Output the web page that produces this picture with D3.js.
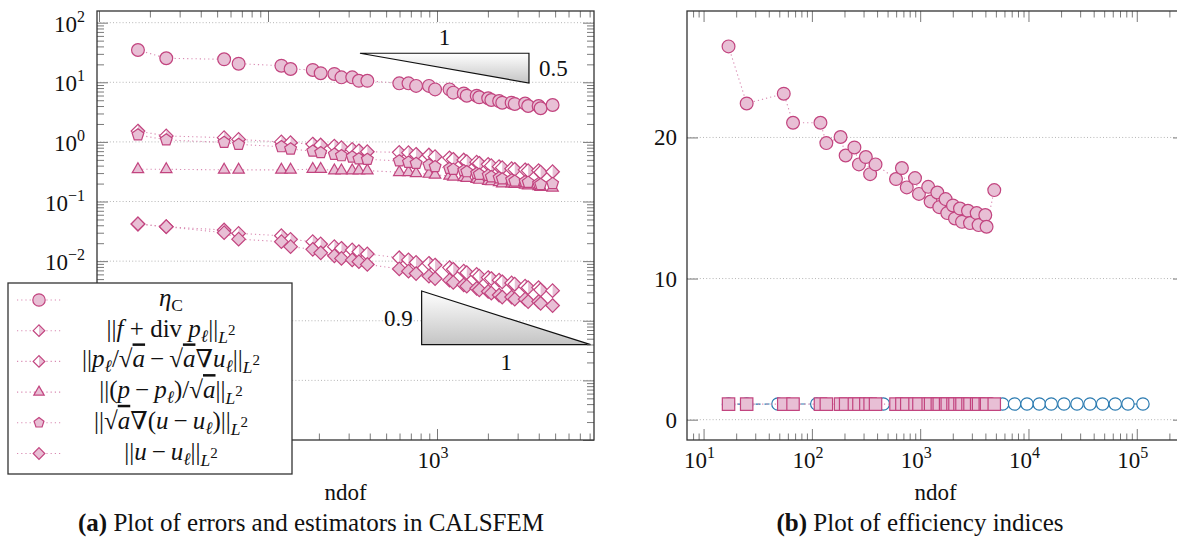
<!DOCTYPE html>
<html>
<head>
<meta charset="utf-8">
<script src="https://cdn.jsdelivr.net/npm/d3@7"></script>
<style>
  body { margin: 0; background: #fff; }
</style>
</head>
<body>
<svg id="fig" width="1177" height="545" font-family="'Liberation Serif', 'Times New Roman', 'DejaVu Serif', serif"></svg>
<script>
// ---- data ----
var ndof = [17, 25, 55, 67, 120, 136, 184, 205, 247, 272, 315, 345, 387, 598, 678, 752, 896, 974,
  1186, 1248, 1440, 1500, 1717, 1779, 2009, 2096, 2331, 2432, 2763, 2884, 3322, 3462, 3992, 4103, 4830];
var etaC = [34.8, 25.3, 24.3, 20.5, 19.0, 16.7, 16.1, 14.2, 13.8, 12.1, 12.1, 10.6, 10.6, 9.6, 9.6, 8.7, 8.7, 7.6,
  7.6, 6.7, 6.5, 5.96, 5.96, 5.6, 5.4, 5.05, 4.85, 4.55, 4.55, 4.33, 4.4, 4.0, 4.0, 3.67, 4.16];
var resDiv = [0.042, 0.0378, 0.0333, 0.0292, 0.0267, 0.0232, 0.0212, 0.0194, 0.0175, 0.0164, 0.0154, 0.0144, 0.0132,
  0.0114, 0.0105, 0.0095, 0.0092, 0.0086, 0.0078, 0.0073, 0.0068, 0.0064, 0.006, 0.0056, 0.0053, 0.0051, 0.0048,
  0.0045, 0.0043, 0.0041, 0.0038, 0.0036, 0.0036, 0.0033, 0.0032];
var resFlux = [1.52, 1.26, 1.18, 1.1, 1.0, 0.97, 0.92, 0.887, 0.85, 0.80, 0.75, 0.71, 0.685, 0.668, 0.66, 0.62, 0.603,
  0.565, 0.54, 0.51, 0.497, 0.466, 0.458, 0.437, 0.42, 0.40, 0.384, 0.37, 0.355, 0.347, 0.34, 0.33, 0.33, 0.31, 0.316];
var errFlux = [0.347, 0.347, 0.34, 0.34, 0.34, 0.34, 0.35, 0.35, 0.33, 0.33, 0.33, 0.33, 0.33, 0.31, 0.31, 0.297, 0.29,
  0.28, 0.27, 0.26, 0.255, 0.248, 0.238, 0.23, 0.22, 0.217, 0.21, 0.2, 0.2, 0.197, 0.19, 0.185, 0.18, 0.175, 0.17];
var errEnergy = [1.31, 1.08, 0.98, 0.91, 0.83, 0.76, 0.70, 0.66, 0.62, 0.586, 0.558, 0.52, 0.51, 0.48, 0.455, 0.437,
  0.41, 0.384, 0.36, 0.347, 0.33, 0.316, 0.297, 0.285, 0.275, 0.26, 0.25, 0.24, 0.23, 0.22, 0.215, 0.21, 0.2, 0.193, 0.2];
var errL2 = [0.042, 0.0378, 0.030, 0.0234, 0.0212, 0.0175, 0.0158, 0.0138, 0.0123, 0.0111, 0.0105, 0.0098, 0.0088,
  0.0074, 0.0068, 0.0062, 0.0056, 0.0051, 0.0048, 0.0044, 0.0040, 0.0038, 0.0035, 0.0033, 0.0031, 0.0029, 0.0027,
  0.0025, 0.0025, 0.0023, 0.0023, 0.0021, 0.0021, 0.00196, 0.0018];

var effEta = [26.45, 22.41, 23.1, 21.04, 21.04, 19.6, 20.03, 18.72, 19.29, 18.09, 18.61, 17.4, 18.09, 17.05, 17.83,
  16.46, 17.12, 16.0, 16.5, 15.46, 16.1, 15.06, 15.63, 14.64, 15.18, 14.26, 14.96, 14.02, 14.8, 13.93, 14.64, 13.79,
  14.5, 13.67, 16.27];
var effLS = [1.1, 1.1, 1.1, 1.1, 1.1, 1.1, 1.1, 1.1, 1.1, 1.1, 1.1, 1.1, 1.1, 1.1, 1.1, 1.1, 1.1, 1.1,
  1.1, 1.1, 1.1, 1.1, 1.1, 1.1, 1.1, 1.1, 1.1, 1.1, 1.1, 1.1, 1.1, 1.1, 1.1, 1.1, 1.1];
var ndofUni = [17, 25, 48.6, 111, 457, 5770, 7440, 9690, 12590, 16230, 21270, 28060, 36990, 48330, 63270, 82900, 114000];
var effUni = [1.1, 1.1, 1.11, 1.11, 1.11, 1.11, 1.11, 1.11, 1.11, 1.11, 1.11, 1.11, 1.11, 1.11, 1.11, 1.11, 1.11];

var yTicksLeft = [-4, -3, -2, -1, 0, 1, 2];     // exponents
var xLabelsLeft = [3];
var yTicksRight = [0, 10, 20];
var xTicksRight = [1, 2, 3, 4, 5];

// slope triangles (data coords)
var slopeTop = { x: 350, y: 30.7, rate: 0.5 };
var slopeBot = { x: 811, y: 0.000398, rate: 0.9 };

// ---- style ----
var PINK = "#c2447f", PINKFILL = "#e8bfd5", PINKLINE = "#d98ab2", BLUE = "#2a7ab0";
var FONT = "'Liberation Serif', 'Times New Roman', 'DejaVu Serif', serif";
var FS = 23;

var svg = d3.select("#fig");
var defs = svg.append("defs");
var grad = defs.append("linearGradient").attr("id", "tri").attr("x1", 0).attr("y1", 0).attr("x2", 0).attr("y2", 1);
grad.append("stop").attr("offset", "0%").attr("stop-color", "#ffffff");
grad.append("stop").attr("offset", "100%").attr("stop-color", "#c4c4c4");

var L = { x0: 97, x1: 594, y0: 11, y1: 440 };
var R = { x0: 687, x1: 1184, y0: 11, y1: 440 };

var xL = d3.scaleLog().domain([9.73, 8490]).range([L.x0, L.x1]);
var yL = d3.scaleLog().domain([1e-5, 157]).range([L.y1, L.y0]);
var xR = d3.scaleLog().domain([7.03, 272900]).range([R.x0, R.x1]);
var yR = d3.scaleLinear().domain([-1.44, 28.96]).range([R.y1, R.y0]);

function txt(g, x, y, anchor, size) {
  return g.append("text").attr("x", x).attr("y", y).attr("text-anchor", anchor)
    .style("font-family", FONT).style("font-size", size + "px").attr("fill", "#111");
}

function logTicks(scale, major) {
  var d = scale.domain(), out = [];
  for (var e = Math.floor(Math.log10(d[0])); e <= Math.ceil(Math.log10(d[1])); e++) {
    for (var k = 1; k < 10; k++) {
      var v = k * Math.pow(10, e);
      if (v >= d[0] && v <= d[1] && ((k === 1) === major)) out.push(v);
    }
  }
  return out;
}

function markerPath(kind, r) {
  if (kind === "diamond" || kind === "half")
    return "M0," + (-r) + "L" + r + ",0L0," + r + "L" + (-r) + ",0Z";
  if (kind === "triangle")
    return "M0," + (-r) + "L" + (r * 0.866) + "," + (r * 0.5) + "L" + (-r * 0.866) + "," + (r * 0.5) + "Z";
  if (kind === "pentagon") {
    var p = d3.range(5).map(function (k) {
      var a = -Math.PI / 2 + k * 2 * Math.PI / 5;
      return [r * Math.cos(a), r * Math.sin(a)];
    });
    return "M" + p.join("L") + "Z";
  }
  if (kind === "square")
    return "M" + (-r) + "," + (-r) + "h" + (2 * r) + "v" + (2 * r) + "h" + (-2 * r) + "Z";
  return "";
}

function drawMarker(g, kind, r, stroke, fill) {
  if (kind === "circle" || kind === "open") {
    g.append("circle").attr("r", r).attr("fill", kind === "open" ? "#fff" : fill)
      .attr("stroke", stroke).attr("stroke-width", 1.2);
  } else if (kind === "half") {
    g.append("path").attr("d", markerPath("diamond", r)).attr("fill", "#fff");
    g.append("path").attr("d", "M0," + (-r) + "L" + r + ",0L0," + r + "Z").attr("fill", fill);
    g.append("path").attr("d", markerPath("diamond", r)).attr("fill", "none")
      .attr("stroke", stroke).attr("stroke-width", 1.2);
  } else {
    g.append("path").attr("d", markerPath(kind, r)).attr("fill", fill)
      .attr("stroke", stroke).attr("stroke-width", 1.2);
  }
}

function mathText(g, x, y, parts, fs, anchor) {
  var t = txt(g, x, y, anchor || "middle", fs);
  var cur = 0;
  parts.forEach(function (p) {
    var off = p[2] || 0, sc = p[3] || 1;
    var ts = t.append("tspan").text(p[0]).attr("dy", off - cur).style("font-size", (fs * sc) + "px");
    if (p[1].indexOf("i") >= 0) ts.style("font-style", "italic");
    if (p[1].indexOf("o") >= 0) ts.style("text-decoration", "overline");
    cur = off;
  });
  return t;
}

function power10(g, x, y, e, anchor) {
  var t = txt(g, x, y, anchor, FS).text("10");
  t.append("tspan").attr("dy", -10).style("font-size", "16px").text(e < 0 ? "\u2212" + (-e) : e);
}

function series(g, xs, x, y, vals, kind, r, stroke, fill, line, dash) {
  var pts = xs.map(function (d, i) { return [x(d), y(vals[i])]; });
  g.append("path").attr("d", d3.line()(pts)).attr("fill", "none")
    .attr("stroke", line).attr("stroke-width", 1.1).attr("stroke-dasharray", dash);
  pts.forEach(function (p) {
    drawMarker(g.append("g").attr("transform", "translate(" + p[0] + "," + p[1] + ")"), kind, r, stroke, fill);
  });
}

function frame(g, x, y, box, majorX, minorX, majorY, minorY) {
  var tick = function (ax, size, vals) {
    var a = g.append("g").call(ax.tickValues(vals).tickSize(size).tickFormat(""));
    a.select(".domain").remove();
    a.selectAll("line").attr("stroke", "#7a7a7a").attr("stroke-width", 1);
    return a;
  };
  tick(d3.axisBottom(x), -11, majorX).attr("transform", "translate(0," + box.y1 + ")");
  tick(d3.axisBottom(x), -6.5, minorX).attr("transform", "translate(0," + box.y1 + ")");
  tick(d3.axisTop(x), -11, majorX).attr("transform", "translate(0," + box.y0 + ")");
  tick(d3.axisTop(x), -6.5, minorX).attr("transform", "translate(0," + box.y0 + ")");
  tick(d3.axisLeft(y), -11, majorY).attr("transform", "translate(" + box.x0 + ",0)");
  tick(d3.axisRight(y), -11, majorY).attr("transform", "translate(" + box.x1 + ",0)");
  if (minorY.length) {
    tick(d3.axisLeft(y), -7, minorY).attr("transform", "translate(" + box.x0 + ",0)");
    tick(d3.axisRight(y), -7, minorY).attr("transform", "translate(" + box.x1 + ",0)");
  }
  g.append("rect").attr("x", box.x0).attr("y", box.y0)
    .attr("width", box.x1 - box.x0).attr("height", box.y1 - box.y0)
    .attr("fill", "none").attr("stroke", "#333").attr("stroke-width", 1.3);
}

function grid(g, y, vals, box) {
  g.append("g").selectAll("line").data(vals).enter().append("line")
    .attr("x1", box.x0).attr("x2", box.x1)
    .attr("y1", function (d) { return y(d); }).attr("y2", function (d) { return y(d); })
    .attr("stroke", "#b5b5b5").attr("stroke-width", 1).attr("stroke-dasharray", "1,2.2");
}

// ================= left plot =================
var gl = svg.append("g");
grid(gl, yL, yTicksLeft.map(function (e) { return Math.pow(10, e); }), L);

var leftSeries = [
  { vals: etaC, kind: "circle", r: 6.4, lr: 6.2,
    label: [["\u03B7", "i"], ["C", "", 5, 0.7]] },
  { vals: resDiv, kind: "half", r: 6.8, lr: 5.8,
    label: [["||", ""], ["f", "i"], [" + div ", ""], ["p", "i"], ["\u2113", "i", 5, 0.7], ["||", "", 0],
      ["L", "i", 6, 0.7], ["2", "", -2, 0.6]] },
  { vals: resFlux, kind: "half", r: 6.8, lr: 5.8,
    label: [["||", ""], ["p", "i"], ["\u2113", "i", 5, 0.7], ["/\u221A", "", 0], ["a", "io"], ["\u2009\u2212\u2009\u221A", ""],
      ["a", "io"], ["\u2207", ""], ["u", "i"], ["\u2113", "i", 5, 0.7], ["||", "", 0],
      ["L", "i", 6, 0.7], ["2", "", -2, 0.6]] },
  { vals: errFlux, kind: "triangle", r: 6.6, lr: 6.0,
    label: [["||(", ""], ["p", "i"], ["\u2009\u2212\u2009", ""], ["p", "i"], ["\u2113", "i", 5, 0.7], [")/\u221A", "", 0],
      ["a", "io"], ["||", ""], ["L", "i", 6, 0.7], ["2", "", -2, 0.6]] },
  { vals: errEnergy, kind: "pentagon", r: 6.2, lr: 5.2,
    label: [["||\u221A", ""], ["a", "io"], ["\u2207(", ""], ["u", "i"], ["\u2009\u2212\u2009", ""], ["u", "i"],
      ["\u2113", "i", 5, 0.7], [")||", "", 0], ["L", "i", 6, 0.7], ["2", "", -2, 0.6]] },
  { vals: errL2, kind: "diamond", r: 6.8, lr: 5.8,
    label: [["||", ""], ["u", "i"], ["\u2009\u2212\u2009", ""], ["u", "i"], ["\u2113", "i", 5, 0.7], ["||", "", 0],
      ["L", "i", 6, 0.7], ["2", "", -2, 0.6]] }
];

leftSeries.forEach(function (s) {
  series(gl, ndof, xL, yL, s.vals, s.kind, s.r, PINK, PINKFILL, PINKLINE, "1.2,3");
});

// slope triangles
function slope(g, s, up) {
  var xa = xL(s.x), xb = xL(s.x * 10);
  var ya = yL(s.y), yb = yL(s.y * Math.pow(10, s.rate));
  var pts = up ? [[xa, ya], [xb, ya], [xb, yL(s.y / Math.pow(10, s.rate))]]
               : [[xa, yb], [xa, ya], [xb, ya]];
  g.append("path").attr("d", "M" + pts.join("L") + "Z").attr("fill", "url(#tri)")
    .attr("stroke", "#111").attr("stroke-width", 1.2);
  return pts;
}
var pt = slope(gl, slopeTop, true);
txt(gl, (pt[0][0] + pt[1][0]) / 2, pt[0][1] - 8, "middle", FS).text("1");
txt(gl, pt[1][0] + 10, (pt[1][1] + pt[2][1]) / 2 + 8, "start", FS).text(slopeTop.rate);
var pb = slope(gl, slopeBot, false);
txt(gl, pb[0][0] - 9, (pb[0][1] + pb[1][1]) / 2 + 8, "end", FS).text(slopeBot.rate);
txt(gl, (pb[1][0] + pb[2][0]) / 2, pb[1][1] + 25, "middle", FS).text("1");

frame(gl, xL, yL, L, logTicks(xL, true), logTicks(xL, false), logTicks(yL, true), logTicks(yL, false));

yTicksLeft.forEach(function (e) { power10(gl, L.x0 - 12, yL(Math.pow(10, e)) + 9, e, "end"); });
xLabelsLeft.forEach(function (e) { power10(gl, xL(Math.pow(10, e)) - 4, L.y1 + 28, e, "middle"); });
txt(gl, (L.x0 + L.x1) / 2, 500, "middle", FS).text("ndof");

// legend
var lg = gl.append("g");
lg.append("rect").attr("x", 8).attr("y", 283).attr("width", 284).attr("height", 191)
  .attr("fill", "#fff").attr("stroke", "#333").attr("stroke-width", 1.3);
leftSeries.forEach(function (s, i) {
  var yy = 300 + i * 30.7;
  lg.append("line").attr("x1", 17).attr("x2", 62).attr("y1", yy).attr("y2", yy)
    .attr("stroke", PINKLINE).attr("stroke-width", 1.1).attr("stroke-dasharray", "1.2,3");
  drawMarker(lg.append("g").attr("transform", "translate(39," + yy + ")"), s.kind, s.lr, PINK, PINKFILL);
  mathText(lg, 171, yy + 6, s.label, 25, "middle");
});

// caption (a)
var ca = txt(gl, 311, 531, "middle", 25);
ca.append("tspan").style("font-weight", "bold").text("(a)");
ca.append("tspan").text(" Plot of errors and estimators in CALSFEM");

// ================= right plot =================
var gr = svg.append("g");
grid(gr, yR, yTicksRight, R);

series(gr, ndofUni, xR, yR, effUni, "open", 6.2, BLUE, "#fff", BLUE, "5,4");
series(gr, ndof, xR, yR, effLS, "square", 6.2, PINK, PINKFILL, PINKLINE, "1.2,3");
series(gr, ndof, xR, yR, effEta, "circle", 6.4, PINK, PINKFILL, PINKLINE, "1.2,3");

frame(gr, xR, yR, R, logTicks(xR, true), logTicks(xR, false), yTicksRight, []);

yTicksRight.forEach(function (v) {
  txt(gr, R.x0 - 10, yR(v) + 8, "end", FS).text(v);
});
xTicksRight.forEach(function (e) { power10(gr, xR(Math.pow(10, e)) - 4, R.y1 + 28, e, "middle"); });
txt(gr, (R.x0 + R.x1) / 2, 500, "middle", FS).text("ndof");

var cb = txt(gr, 920, 531, "middle", 25);
cb.append("tspan").style("font-weight", "bold").text("(b)");
cb.append("tspan").text(" Plot of efficiency indices");
</script>
</body>
</html>
